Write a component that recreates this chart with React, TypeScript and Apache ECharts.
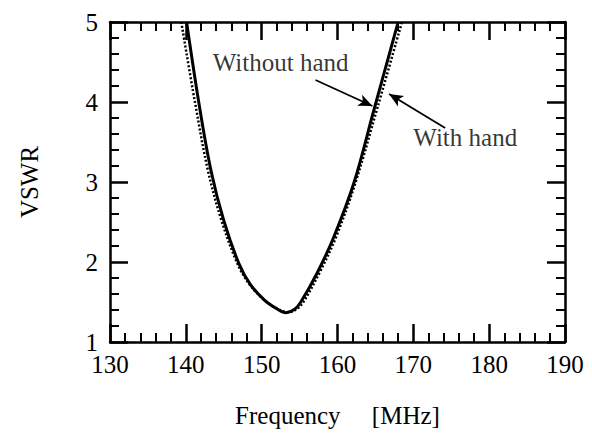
import React, { useEffect, useRef } from "react";
import * as echarts from "echarts";

// Frequency (MHz) / VSWR
const withoutHandFreq = [140.1, 141.7, 143.3, 145.0, 147.0, 148.5, 150.4, 152.0, 153.2, 154.3, 155.1, 157.3, 159.5, 162.2, 164.8, 168.0];
const withoutHandVswr = [5.0, 4.0, 3.15, 2.52, 1.98, 1.72, 1.52, 1.415, 1.366, 1.405, 1.49, 1.86, 2.31, 3.0, 3.9, 5.0];

const withHandFreq = [139.4, 141.2, 142.9, 144.7, 146.8, 148.4, 150.4, 152.1, 153.5, 154.6, 155.5, 157.6, 159.8, 162.4, 165.3, 168.5];
const withHandVswr = [5.0, 4.0, 3.15, 2.52, 1.98, 1.72, 1.52, 1.415, 1.37, 1.41, 1.5, 1.86, 2.31, 3.0, 3.94, 5.0];

const xTicks = [130, 140, 150, 160, 170, 180, 190];
const yTicks = [1, 2, 3, 4, 5];

// annotation text anchors [freq, vswr, text]
const annotations: [number, number, string][] = [
  [143.55, 4.5, "Without hand"],
  [170.0, 3.56, "With hand"],
];
// arrows [fromFreq, fromVswr, toFreq, toVswr]
const arrows: [number, number, number, number][] = [
  [157.1, 4.275, 164.6, 3.95],
  [174.2, 3.675, 166.8, 4.1],
];

const FONT = "'Liberation Serif', 'Times New Roman', serif";

function axisParts() {
  return {
    axisLine: { show: true, onZero: false, lineStyle: { color: "#000", width: 2.5 } },
    axisTick: { show: true, inside: true, length: 18, lineStyle: { color: "#000", width: 2.5 } },
    minorTick: { show: true, splitNumber: 5, length: 9, lineStyle: { color: "#000", width: 2 } },
    splitLine: { show: false },
    minorSplitLine: { show: false },
  };
}

export default function App() {
  const ref = useRef<HTMLDivElement>(null);
  useEffect(() => {
    if (!ref.current) return;
    const chart = echarts.init(ref.current, null, { renderer: "svg" });
    const xMin = xTicks[0];
    const xMax = xTicks[xTicks.length - 1];
    const yMin = yTicks[0];
    const yMax = yTicks[yTicks.length - 1];
    chart.setOption({
      animation: false,
      backgroundColor: "#fff",
      grid: { left: 110, right: 27, top: 22, bottom: 99, containLabel: false },
      xAxis: [
        {
          type: "value", position: "bottom", min: xMin, max: xMax, interval: 10,
          ...axisParts(),
          axisLabel: { show: true, color: "#000", fontFamily: FONT, fontSize: 25, margin: 10 },
          name: "Frequency     [MHz]",
          nameLocation: "middle",
          nameGap: 61,
          nameTextStyle: { color: "#000", fontFamily: FONT, fontSize: 25 },
        },
        {
          type: "value", position: "top", min: xMin, max: xMax, interval: 10,
          ...axisParts(),
          axisLabel: { show: false },
        },
      ],
      yAxis: [
        {
          type: "value", position: "left", min: yMin, max: yMax, interval: 1,
          ...axisParts(),
          axisLabel: { show: true, color: "#000", fontFamily: FONT, fontSize: 25, margin: 12, padding: [0, 0, 3, 0] },
          name: "VSWR",
          nameLocation: "middle",
          nameGap: 68,
          nameTextStyle: { color: "#000", fontFamily: FONT, fontSize: 25 },
        },
        {
          type: "value", position: "right", min: yMin, max: yMax, interval: 1,
          ...axisParts(),
          axisLabel: { show: false },
        },
      ],
      series: [
        {
          name: "Without hand",
          type: "line",
          smooth: 0.35,
          symbol: "none",
          clip: true,
          data: withoutHandFreq.map((f, i) => [f, withoutHandVswr[i]]),
          lineStyle: { color: "#000", width: 3 },
          z: 3,
        },
        {
          name: "With hand",
          type: "line",
          smooth: 0.35,
          symbol: "none",
          clip: true,
          data: withHandFreq.map((f, i) => [f, withHandVswr[i]]),
          lineStyle: { color: "#000", width: 2.5, type: [2, 2] },
          z: 2,
        },
        {
          name: "annotations",
          type: "scatter",
          symbolSize: 0,
          silent: true,
          data: annotations.map((a) => ({ value: [a[0], a[1]], name: a[2] })),
          label: {
            show: true,
            position: "right",
            distance: 0,
            formatter: (p: any) => p.name,
            color: "#000",
            fontFamily: FONT,
            fontSize: 25,
          },
          markLine: {
            silent: true,
            symbol: ["none", "arrow"],
            symbolSize: [9, 14],
            label: { show: false },
            lineStyle: { color: "#000", width: 1.8, type: "solid" },
            data: arrows.map((a) => [
              { coord: [a[0], a[1]] },
              { coord: [a[2], a[3]] },
            ]),
          },
        },
      ],
    });
    return () => chart.dispose();
  }, []);
  return <div ref={ref} style={{ width: 592, height: 441, position: "absolute", left: 0, top: 0 }} />;
}
